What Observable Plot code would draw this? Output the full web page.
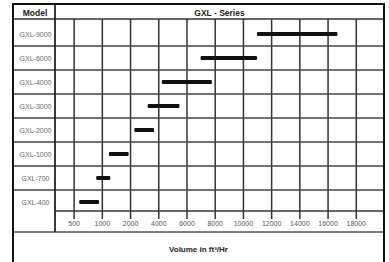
<!DOCTYPE html>
<html><head><meta charset="utf-8">
<script src="https://cdn.jsdelivr.net/npm/d3@7"></script>
<script src="https://cdn.jsdelivr.net/npm/@observablehq/plot@0.6"></script>
<style>html,body{margin:0;padding:0;background:#fff}svg{display:block}</style>
</head><body><div id="chart"></div>
<script>
const models = ["GXL-9000","GXL-6000","GXL-4000","GXL-3000","GXL-2000","GXL-1000","GXL-700","GXL-400"];
const lowValues  = [11000, 7000, 4250, 3250, 2300, 1250,  900, 600];
const highValues = [16700, 11000, 7800, 5500, 3700, 1950, 1300, 950];
const tickValues = [500,1000,2000,4000,6000,8000,10000,12000,14000,16000,18000];
const tickLabels = ["500","1000","2000","4000","6000","8000","10000","12000","14000","16000","18000"];
const rowHeader = "Model";
const title = "GXL - Series";
const xLabel = "Volume in ft³/Hr";

// tick values are equally spaced on the chart: map values to tick index
const toIndex = d3.scaleLinear().domain(tickValues).range(d3.range(tickValues.length));
const data = models.map((m, i) => ({model: m, lo: toIndex(lowValues[i]), hi: toIndex(highValues[i])}));
const idx = d3.range(tickValues.length);

const W = 389, H = 262, mL = 55, mR = 5, mT = 19, mB = 51;
const font = "Liberation Sans, Arial, sans-serif";

const plot = Plot.plot({
  width: W, height: H,
  marginLeft: mL, marginRight: mR, marginTop: mT, marginBottom: mB,
  style: {fontFamily: font, fontSize: "7px", background: "#fff", color: "#222"},
  x: {domain: [-0.66, 11]},
  y: {domain: models, range: [mT, 216], padding: 0},
  marks: [
    Plot.gridX(idx, {stroke: "#333", strokeOpacity: 1, strokeWidth: 1.5}),
    Plot.axisX(idx, {tickSize: 8, tickPadding: 2, tickFormat: i => tickLabels[i], stroke: "#333", strokeWidth: 1.5, fill: "#555", label: null}),
    Plot.axisY({tickSize: 0, tickPadding: 20, textAnchor: "middle", fill: "#666", label: null}),
    Plot.barX(data, {x1: "lo", x2: "hi", y: "model", fill: "#111", insetTop: 10, insetBottom: 10, rx: 1})
  ]
});

const svg = d3.select(plot);
const ys = plot.scale("y");
const g = svg.append("g").attr("fill", "none");
const line = (x1, y1, x2, y2, w, c) => g.append("line").attr("x1", x1).attr("y1", y1).attr("x2", x2).attr("y2", y2)
  .attr("stroke", c || "#333").attr("stroke-width", w || 1.5);
const L = 13, T = 4, R = W - mR;
// row boundaries through the band scale
models.slice(1).forEach(m => line(L, ys.apply(m), R, ys.apply(m), 1.5, "#444"));
line(L, mT, R, mT, 1.6, "#333");
line(mL, H - mB, R, H - mB, 1.5, "#333");
line(L, 232, R, 232, 1.5, "#555");
line(mL, T, mL, 232, 1.8, "#222");
line(L, T, L, H, 2, "#111");
line(R, T, R, H, 2, "#111");
line(L - 1, T, R + 1, T, 2, "#111");

const t = svg.append("g").attr("font-family", font).attr("font-weight", "bold").attr("fill", "#222").attr("text-anchor", "middle");
t.append("text").attr("x", (L + mL) / 2 + 1).attr("y", 16).attr("font-size", 8.5).text(rowHeader);
t.append("text").attr("x", (mL + R) / 2).attr("y", 16).attr("font-size", 8.5).text(title);
t.append("text").attr("x", (L + R) / 2).attr("y", 252).attr("font-size", 8).text(xLabel);

document.getElementById("chart").appendChild(plot);
</script></body></html>
